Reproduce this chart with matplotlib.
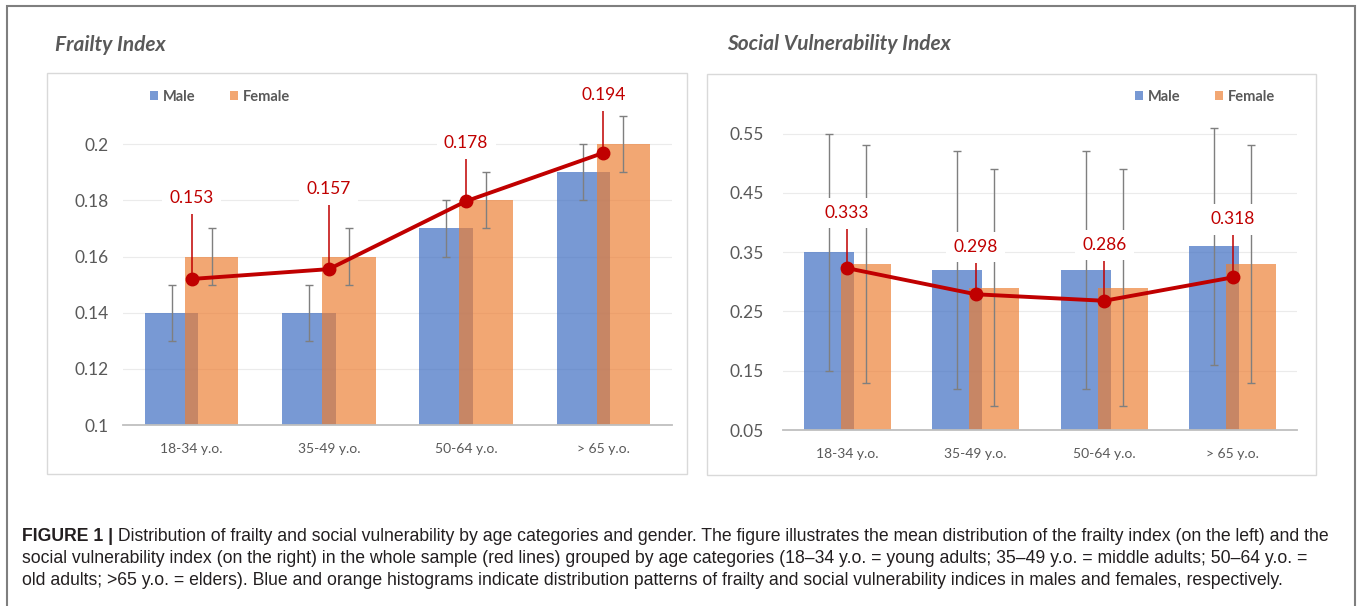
import numpy as np
import matplotlib.pyplot as plt
from matplotlib.patches import Rectangle

plt.rcParams['font.family'] = ['Lato', 'DejaVu Sans']

W, H = 1358, 606

age_groups = ['18-34 y.o.', '35-49 y.o.', '50-64 y.o.', '> 65 y.o.']

# Frailty index (left panel)
fi_male = [0.14, 0.14, 0.17, 0.19]
fi_female = [0.16, 0.16, 0.18, 0.20]
fi_male_err = [0.01, 0.01, 0.01, 0.01]
fi_female_err = [0.01, 0.01, 0.01, 0.01]
fi_mean = [0.152, 0.1555, 0.1797, 0.1969]
fi_mean_up = [0.023, 0.023, 0.015, 0.015]
fi_mean_labels = ['0.153', '0.157', '0.178', '0.194']
fi_ticks = [0.1, 0.12, 0.14, 0.16, 0.18, 0.2]
fi_ticklabels = ['0.1', '0.12', '0.14', '0.16', '0.18', '0.2']

# Social vulnerability index (right panel)
svi_male = [0.35, 0.32, 0.32, 0.36]
svi_female = [0.33, 0.29, 0.29, 0.33]
svi_male_err = [0.20, 0.20, 0.20, 0.20]
svi_female_err = [0.20, 0.20, 0.20, 0.20]
svi_mean = [0.323, 0.279, 0.268, 0.3075]
svi_mean_up = [0.066, 0.053, 0.067, 0.071]
svi_mean_labels = ['0.333', '0.298', '0.286', '0.318']
svi_ticks = [0.05, 0.15, 0.25, 0.35, 0.45, 0.55]
svi_ticklabels = ['0.05', '0.15', '0.25', '0.35', '0.45', '0.55']

caption = [
    'Distribution of frailty and social vulnerability by age categories and gender. '
    'The figure illustrates the mean distribution of the frailty index (on the left) and the',
    'social vulnerability index (on the right) in the whole sample (red lines) grouped by age '
    'categories (18\u201334 y.o. = young adults; 35\u201349 y.o. = middle adults; 50\u201364 y.o. =',
    'old adults; >65 y.o. = elders). Blue and orange histograms indicate distribution patterns '
    'of frailty and social vulnerability indices in males and females, respectively.',
]

male_col = '#4472C4'
female_col = '#ED7D31'
red = '#C00000'
grey_txt = '#595959'


def draw_panel(ax, male, female, male_err, female_err, mean, mean_up, labels,
               ticks, ticklabels, ylim, ypad):
    x = np.arange(len(age_groups))
    w = 0.39
    b1 = ax.bar(x - 0.145, male, w, color=male_col, alpha=0.72, zorder=2, label='Male')
    b2 = ax.bar(x + 0.145, female, w, color=female_col, alpha=0.68, zorder=2, label='Female')
    ax.errorbar(x - 0.145, male, yerr=male_err, fmt='none', ecolor='#7F7F7F',
                elinewidth=1, capsize=3, capthick=1, zorder=3)
    ax.errorbar(x + 0.145, female, yerr=female_err, fmt='none', ecolor='#7F7F7F',
                elinewidth=1, capsize=3, capthick=1, zorder=3)
    # red mean line with upward bars
    ax.errorbar(x, mean, yerr=[np.zeros(len(x)), mean_up], fmt='none', ecolor=red,
                elinewidth=1.1, capsize=0, zorder=4)
    ax.plot(x, mean, color=red, lw=2.8, marker='o', ms=9, zorder=5)
    for xi, m, u, lab in zip(x, mean, mean_up, labels):
        ax.annotate(lab, (xi, m + u), xytext=(0, 11.5), textcoords='offset points',
                    ha='center', va='center', color=red, fontsize=12.5, zorder=6,
                    bbox=dict(boxstyle='square,pad=0.42', fc='white', ec='none'))

    ax.set_xlim(-0.5, 3.5)
    ax.set_ylim(*ylim)
    ax.set_xticks(x)
    ax.set_xticklabels(age_groups, fontsize=10, color=grey_txt)
    ax.set_yticks(ticks)
    ax.set_yticklabels(ticklabels, fontsize=12.5, color=grey_txt)
    ax.tick_params(axis='both', length=0)
    ax.tick_params(axis='x', pad=13)
    ax.tick_params(axis='y', pad=ypad)
    ax.grid(axis='y', color='#EBEBEB', lw=0.8)
    ax.set_axisbelow(True)
    for s in ['top', 'right', 'left']:
        ax.spines[s].set_visible(False)
    ax.spines['bottom'].set_color('#BFBFBF')
    ax.spines['bottom'].set_linewidth(1.3)
    return b1, b2


fig = plt.figure(figsize=(W / 100, H / 100), dpi=100)

ax1 = fig.add_axes([123 / W, 1 - 425 / H, 549 / W, 337 / H])
h1 = draw_panel(ax1, fi_male, fi_female, fi_male_err, fi_female_err, fi_mean, fi_mean_up,
                fi_mean_labels, fi_ticks, fi_ticklabels, (0.1, 0.22), 10)

ax2 = fig.add_axes([783 / W, 1 - 430 / H, 514 / W, 326 / H])
h2 = draw_panel(ax2, svi_male, svi_female, svi_male_err, svi_female_err, svi_mean, svi_mean_up,
                svi_mean_labels, svi_ticks, svi_ticklabels, (0.05, 0.60), 14)

for ax, h, cx in [(ax1, h1, 220), (ax2, h2, 1205)]:
    ax.legend(h, ['Male', 'Female'], loc='center', bbox_to_anchor=(cx / W, 1 - 97 / H),
              bbox_transform=fig.transFigure, ncol=2, frameon=False,
              prop=dict(weight='bold', size=10.5), labelcolor=grey_txt,
              handlelength=0.55, handleheight=0.55, handletextpad=0.3, columnspacing=2.4)

# panel titles
fig.text(55 / W, 1 - 45 / H, 'Frailty Index', fontsize=15, style='italic', weight='bold',
         color=grey_txt, va='center')
fig.text(727 / W, 1 - 44 / H, 'Social Vulnerability Index', fontsize=15, style='italic',
         weight='bold', color=grey_txt, va='center')

# panel boxes and outer frame
fig.add_artist(Rectangle((47 / W, 1 - 474 / H), 640 / W, 401 / H, transform=fig.transFigure,
                         fill=False, ec='#D9D9D9', lw=1))
fig.add_artist(Rectangle((707 / W, 1 - 475 / H), 609 / W, 401 / H, transform=fig.transFigure,
                         fill=False, ec='#D9D9D9', lw=1))
fig.add_artist(Rectangle((7 / W, -0.02), 1348 / W, 1.02 - 6 / H, transform=fig.transFigure,
                         fill=False, ec='#7F7F7F', lw=1.5))

# caption
cap_kw = dict(fontsize=12.7, color='#231F20', family=['Liberation Sans', 'DejaVu Sans'])
t0 = fig.text(22 / W, 1 - 541 / H, 'FIGURE 1 |', weight='bold', va='baseline', **cap_kw)
fig.add_artist(plt.Annotation(' ' + caption[0], xy=(1, 0), xycoords=t0, va='bottom',
                              **cap_kw))
fig.text(22 / W, 1 - 563 / H, caption[1], va='baseline', **cap_kw)
fig.text(22 / W, 1 - 585 / H, caption[2], va='baseline', **cap_kw)

plt.savefig('out.png', dpi=100)
